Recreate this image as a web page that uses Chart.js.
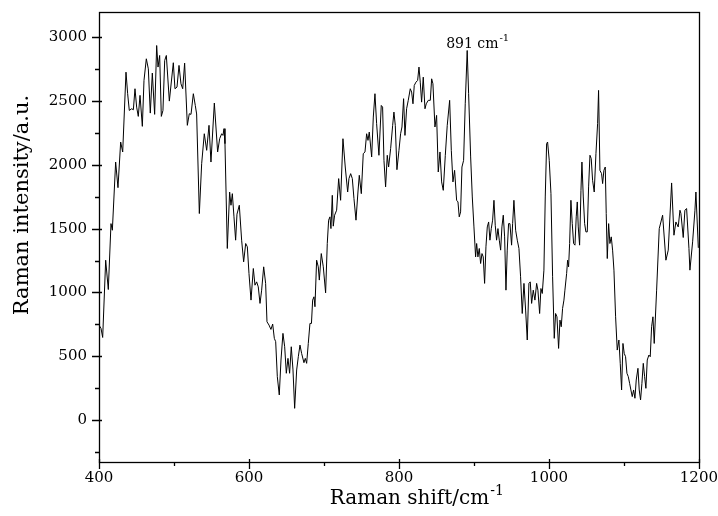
<!DOCTYPE html>
<html lang="en">
<head>
    <meta charset="UTF-8">
    <title>Raman spectrum</title>
    <script src="https://cdn.jsdelivr.net/npm/chart.js"></script>
    <style>
        body {
            margin: 0;
            padding: 0;
            background: #fff;
        }
        canvas {
            display: block;
        }
    </style>
</head>
<body>
<canvas id="ramanChart" width="718" height="516"></canvas>
<script>
    // Raman shift (cm-1) and intensity (a.u.)
    const shift = [
        400, 402.7, 404.9, 408.9, 412.4, 416, 417.8, 422.2, 425.3, 428.9, 431.6, 436, 438.2, 440.4, 443.6,
        445.8, 448, 450.2, 452.4, 454.7, 457.8, 460, 463.1, 465.8, 468.4, 471.1, 474.2, 476.9, 478.7, 480.9,
        483.1, 485.3, 487.6, 489.8, 493.8, 499.1, 501.3, 504, 506.7, 509.3, 511.6, 514.2, 517.8, 520.4, 522.7,
        525.8, 528.4, 530.2, 533.8,
        536.9, 540.4, 543.6, 546.7, 549.3, 553.8, 558.2, 560.9, 563.6, 565.3, 566.7, 568, 571.1, 574.2, 576,
        577.8, 580, 582.2, 584, 587.1, 590.2, 592.9, 595.6, 597.8, 600, 602.7, 605.8, 608, 610.2, 612.4,
        614.7, 616.9, 619.6, 622.2, 624, 626.7, 629.3, 631.6, 633.8, 635.6, 637.8, 640.4, 642.7, 645.3, 647.6,
        649.8, 652, 654.2, 656.4, 658.7, 660.9, 663.6, 665.8,
        668, 670.2, 673.3, 675.1, 676.9, 679.1, 681.3, 683.3, 684.9, 686.7, 688, 690.2, 692.4, 693.8, 696.4,
        699.1, 702.2, 704.4, 706.2, 708, 709.3, 711.1, 712.4, 714.2, 716.9, 719.6, 722.2, 725.3, 728.4, 731.6,
        733.3, 735.6, 737.8, 740, 742.7, 745.3, 747.1, 749.8, 752.4, 754.7, 756.9, 758.7, 760.4, 763.6, 765.8,
        768, 770.2, 773.3, 776.4, 778.2, 780, 782.2, 784.4, 786.2, 788.9, 791.6, 793.3, 795.1, 797.3, 800,
        802.2, 804, 806.2,
        808, 810.2, 812.4, 815.1, 816.9, 818.7, 820.4, 822.7, 824.9, 826.7, 828.4, 830.2, 832.4, 834.7, 836.4,
        839.1, 841.8, 843.6, 845.3, 848, 850.2, 852.4, 854.7, 856.9, 859.1, 861.8, 864.4, 867.6, 869.8, 872,
        874.2, 876.9, 878.7, 880.4, 882.2, 884, 886.2, 888.4, 891, 892.9, 895.6, 897.8, 900, 902.2, 903.6,
        905.3, 907.1, 908.9, 910.7, 912.4, 914.2, 916, 917.8, 919.6, 921.3, 923.1, 924.9, 926.7, 928.4, 930.2,
        932, 933.8, 935.6, 937.3, 939.1, 940.9, 942.7, 944.4, 946.2,
        948, 950.2, 951.6, 953.3, 955.6, 957.8, 960, 962.2, 964.4, 966.7, 968.9, 971.1, 973.3, 975.1, 976.9,
        979.1, 981.3, 983.6, 985.3, 987.6, 989.3, 991.1, 993.3, 995.1, 996.9, 998.2, 1000.4, 1002.7, 1004.9,
        1007.1, 1008.9, 1010.7, 1012.9, 1014.7, 1016.4, 1018.2, 1020, 1021.3, 1023.6, 1024.9, 1026.2, 1027.6,
        1029.3, 1031.1, 1032.9, 1034.7, 1036.4, 1037.8, 1039.1, 1040.9, 1042.7, 1044, 1045.8, 1047.6, 1049.3,
        1051.1, 1052.9, 1054.7, 1056.4, 1058.2, 1060.4, 1062.7, 1064.9, 1066.2,
        1068, 1070.2, 1071.6, 1073.3, 1075.1, 1076.4, 1077.8, 1079.6, 1081.3, 1083.1, 1084.9, 1086.7, 1088.9,
        1091.1, 1093.3, 1095.1, 1096.9, 1098.7, 1100.4, 1102.2, 1104, 1105.8, 1107.6, 1109.3, 1111.1, 1112.9,
        1114.7, 1116.4, 1118.7, 1120.4, 1122.2, 1124, 1125.8, 1127.6, 1129.3, 1131.1, 1133.3, 1135.1, 1136.9,
        1138.7, 1140.4, 1143.6, 1147.1, 1151.6, 1156, 1159.1, 1163.6, 1166.7, 1169.3, 1172.4, 1174.7, 1176,
        1179.1, 1181.3, 1183.6, 1186.7, 1188, 1191.6, 1194.7, 1196, 1199.2
    ];
    const intensity = [
        744, 718, 647, 1253, 1023, 1540, 1488, 2023, 1822, 2180, 2102, 2728, 2559, 2428, 2441,
        2433, 2598, 2454, 2381, 2546, 2303, 2663, 2833, 2754, 2407, 2721, 2397, 2937, 2768, 2859,
        2381, 2428, 2820, 2859, 2501, 2802, 2598, 2611, 2781, 2637, 2598, 2799, 2311, 2402, 2397,
        2559, 2467, 2400, 1619,
        2010, 2245, 2115, 2311, 2023, 2486, 2102, 2206, 2245, 2232, 2285, 2167, 1345, 1788, 1684,
        1775, 1593, 1410, 1614, 1684, 1410, 1240, 1384, 1358, 1149, 940, 1188, 1057, 1083, 1044,
        914, 1018, 1201, 1071, 770, 744, 710, 752, 640, 614, 339, 196, 470, 679, 574,
        366, 483, 366, 574, 392, 91, 392, 496,
        587, 522, 449, 483, 444, 600, 757, 757, 940, 966, 888, 1253, 1201, 1097, 1305,
        1201, 997, 1384, 1567, 1593, 1501, 1762, 1520, 1606, 1645, 1893, 1723, 2206, 1984, 1788,
        1893, 1932, 1893, 1736, 1567, 1788, 1919, 1775, 2089, 2102, 2245, 2193, 2258, 2063, 2376,
        2559, 2324, 2076, 2467, 2454, 2036, 1828, 2076, 1984, 2128, 2311, 2415, 2311, 1963, 2115,
        2245, 2298, 2520,
        2232, 2441, 2507, 2598, 2572, 2480, 2624, 2650, 2663, 2768, 2650, 2493, 2689, 2441, 2480,
        2507, 2507, 2676, 2637, 2298, 2389, 1945, 2102, 1867, 1801, 2076, 2311, 2507, 2115, 1867,
        1958, 1723, 1710, 1593, 1632, 1984, 2036, 2480, 2898, 2559, 2063, 1749, 1514, 1279, 1384,
        1279, 1345, 1227, 1305, 1279, 1071, 1358, 1514, 1553, 1410, 1501, 1567, 1723, 1527, 1410,
        1501, 1410, 1332, 1514, 1606, 1436, 1018, 1332, 1540,
        1540, 1371, 1540, 1723, 1488, 1410, 1345, 1123, 835, 1071, 862, 627, 1071, 1083, 914,
        1018, 940, 1071, 1018, 835, 1031, 992, 1175, 1749, 2167, 2180, 2036, 1775, 1123,
        640, 835, 809, 561, 783, 731, 875, 940, 1018, 1149, 1253, 1201, 1384,
        1723, 1540, 1384, 1371, 1593, 1710, 1514, 1371, 1801, 2023, 1749, 1540, 1475,
        1475, 1828, 2076, 2050, 1880, 1788, 2089, 2324, 2585,
        1958, 1932, 1854, 1958, 1984, 1619, 1266, 1540, 1384, 1436, 1332, 1175, 809,
        548, 627, 444, 235, 600, 522, 496, 366, 340, 287, 235, 183, 235,
        170, 313, 405, 235, 157, 287, 444, 339, 248, 470, 509, 496, 731,
        809, 600, 1018, 1501, 1606, 1253, 1332, 1859, 1449, 1553, 1514, 1645, 1620,
        1431, 1645, 1658, 1345, 1175, 1397, 1645, 1788, 1350
    ];

    // labelled ticks; minor ticks sit halfway between
    const xMajor = [400, 600, 800, 1000, 1200];
    const xMinor = [500, 700, 900, 1100];
    const yMajor = [0, 500, 1000, 1500, 2000, 2500, 3000];
    const yMinor = [-250, 250, 750, 1250, 1750, 2250, 2750];
    const peakShift = 891;
    const peakLabel = '891 cm';
    const xTitle = 'Raman shift/cm';
    const yTitle = 'Raman intensity/a.u.';

    const serif = "'DejaVu Serif', serif";
    Chart.defaults.color = '#000';
    Chart.defaults.font.family = serif;

    // text followed by a small raised "-1"
    function unitText(c, text, x, y, size, supSize, rise) {
        c.font = size + 'px ' + serif;
        c.textAlign = 'left';
        c.fillText(text, x, y);
        const w = c.measureText(text).width;
        c.font = supSize + 'px ' + serif;
        c.fillText('-1', x + w + 1, y - rise);
        return w + 1 + c.measureText('-1').width;
    }

    // frame, crossing major ticks and short outer minor ticks
    const framePlugin = {
        id: 'frame',
        afterDraw(chart) {
            const a = chart.chartArea;
            const sx = chart.scales.x, sy = chart.scales.y;
            const c = chart.ctx;
            const L = Math.round(a.left), R = Math.round(a.right);
            const T = Math.round(a.top), B = Math.round(a.bottom);
            c.save();
            c.strokeStyle = '#000';
            c.lineWidth = 1.3;
            c.strokeRect(L + 0.5, T + 0.5, R - L, B - T);
            c.beginPath();
            xMajor.forEach(v => {
                const p = Math.round(sx.getPixelForValue(v)) + 0.5;
                c.moveTo(p, B - 3); c.lineTo(p, B + 7);
            });
            xMinor.forEach(v => {
                const p = Math.round(sx.getPixelForValue(v)) + 0.5;
                c.moveTo(p, B); c.lineTo(p, B + 4);
            });
            yMajor.forEach(v => {
                const p = Math.round(sy.getPixelForValue(v)) + 0.5;
                c.moveTo(L + 3, p); c.lineTo(L - 7, p);
            });
            yMinor.forEach(v => {
                const p = Math.round(sy.getPixelForValue(v)) + 0.5;
                c.moveTo(L, p); c.lineTo(L - 4, p);
            });
            c.stroke();
            c.restore();
        }
    };

    // axis titles and the peak label
    const textPlugin = {
        id: 'texts',
        afterDraw(chart) {
            const a = chart.chartArea;
            const c = chart.ctx;
            c.save();
            c.fillStyle = '#000';
            c.textBaseline = 'alphabetic';

            // x title, centred under the plot
            c.font = '20px ' + serif;
            const xw = c.measureText(xTitle).width + 15;
            unitText(c, xTitle, (a.left + a.right) / 2 - xw / 2 + 18, 504, 20, 14, 9);

            // y title, rotated
            c.translate(28, 205);
            c.rotate(-Math.PI / 2);
            c.font = '21px ' + serif;
            c.textAlign = 'center';
            c.fillText(yTitle, 0, 0);
            c.restore();

            // peak label
            const i = shift.indexOf(peakShift);
            const px = chart.scales.x.getPixelForValue(peakShift);
            const py = chart.scales.y.getPixelForValue(intensity[i]);
            c.save();
            c.fillStyle = '#000';
            c.textBaseline = 'alphabetic';
            unitText(c, peakLabel, px - 21, py - 2, 14, 10, 7);
            c.restore();
        }
    };

    // ticks are drawn by the frame plugin; the grid only spaces the labels
    const hiddenGrid = (len) => ({
        display: true,
        drawOnChartArea: false,
        drawTicks: true,
        tickLength: len,
        tickColor: 'rgba(0,0,0,0)'
    });

    const ctx = document.getElementById('ramanChart').getContext('2d');
    new Chart(ctx, {
        type: 'line',
        data: {
            datasets: [{
                data: shift.map((x, i) => ({ x: x, y: intensity[i] })),
                borderColor: '#000',
                borderWidth: 1,
                pointRadius: 0,
                tension: 0,
                fill: false
            }]
        },
        options: {
            responsive: false,
            animation: false,
            devicePixelRatio: 1,
            layout: { padding: { left: 0, right: 19, top: 12, bottom: 0 } },
            plugins: {
                legend: { display: false },
                tooltip: { enabled: false }
            },
            scales: {
                x: {
                    type: 'linear',
                    min: 400,
                    max: 1200,
                    afterFit: s => { s.height = 54; },
                    afterBuildTicks: s => { s.ticks = xMajor.map(v => ({ value: v })); },
                    ticks: {
                        maxRotation: 0,
                        autoSkip: false,
                        padding: 0,
                        font: { size: 15, family: serif },
                        callback: v => String(v)
                    },
                    grid: hiddenGrid(7),
                    border: { display: false }
                },
                y: {
                    min: -330,
                    max: 3200,
                    afterFit: s => { s.width = 99; },
                    afterBuildTicks: s => { s.ticks = yMajor.map(v => ({ value: v })); },
                    ticks: {
                        autoSkip: false,
                        padding: 0,
                        font: { size: 15, family: serif },
                        callback: v => String(v)
                    },
                    grid: hiddenGrid(12),
                    border: { display: false }
                }
            }
        },
        plugins: [framePlugin, textPlugin]
    });
</script>
</body>
</html>
